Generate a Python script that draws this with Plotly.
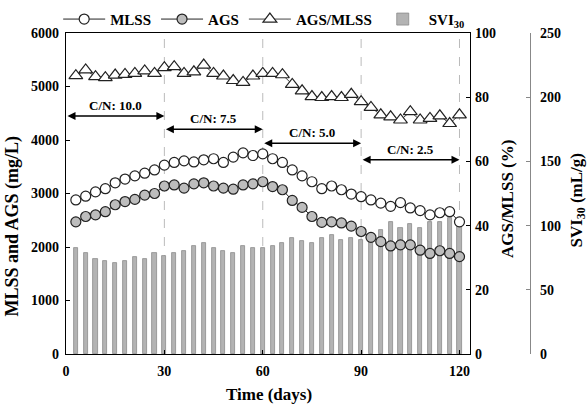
import plotly.graph_objects as go

# ---- data ----
days = [3, 6, 9, 12, 15, 18, 21, 24, 27, 30, 33, 36, 39, 42, 45, 48, 51, 54, 57, 60,
        63, 66, 69, 72, 75, 78, 81, 84, 87, 90, 93, 96, 99, 102, 105, 108, 111, 114, 117, 120]

mlss = [2880, 2950, 3030, 3090, 3200, 3270, 3330, 3380, 3440, 3530,
        3580, 3610, 3590, 3630, 3650, 3580, 3680, 3760, 3710, 3740,
        3650, 3580, 3440, 3330, 3220, 3090, 3140, 3070, 2990, 2940,
        2880, 2820, 2760, 2830, 2730, 2680, 2600, 2640, 2660, 2470]

ags = [2470, 2570, 2600, 2660, 2790, 2850, 2890, 2970, 3000, 3140,
       3160, 3100, 3180, 3200, 3140, 3100, 3080, 3160, 3180, 3220,
       3130, 3070, 2870, 2740, 2570, 2460, 2470, 2450, 2390, 2290,
       2180, 2100, 2020, 2040, 2040, 1940, 1880, 1930, 1880, 1820]

ags_mlss = [86.7, 88.5, 86.4, 86.1, 86.9, 87.1, 87.4, 88.2, 87.4, 89.2,
            89.5, 87.4, 87.9, 90.0, 87.4, 86.6, 85.2, 84.6, 86.6, 87.4,
            87.4, 87.0, 84.0, 82.0, 80.2, 79.9, 80.2, 79.9, 80.9, 78.6,
            76.8, 74.5, 73.9, 72.9, 75.5, 72.9, 73.4, 74.2, 71.8, 74.5]

svi30 = [82.3, 78.4, 74.0, 72.4, 70.6, 72.4, 75.8, 74.2, 78.4, 76.3,
         78.4, 80.2, 84.4, 86.7, 82.3, 80.2, 78.4, 84.4, 82.3, 82.3,
         84.4, 86.7, 90.1, 88.3, 86.7, 90.1, 92.7, 88.8, 90.1, 88.8,
         88.0, 96.6, 103.0, 98.4, 101.0, 98.4, 103.0, 103.0, 105.7, 103.0]

x_ticks = [0, 30, 60, 90, 120]
phase_bounds = [0, 30, 60, 90, 120]
phase_labels = ["C/N: 10.0", "C/N: 7.5", "C/N: 5.0", "C/N: 2.5"]
phase_arrow_level = [4450, 4200, 3940, 3630]   # mg/L on left axis

FONT = "Liberation Serif"

fig = go.Figure()

# bars on base axis (drawn underneath)
fig.add_trace(go.Bar(
    x=days, y=svi30, name="SVI<sub>30</sub>", yaxis="y", width=1.25,
    marker=dict(color="#b3b3b3", line=dict(color="#8c8c8c", width=0.8)),
    legendrank=4))

fig.add_trace(go.Scatter(
    x=days, y=mlss, name="MLSS", yaxis="y2", mode="lines+markers",
    line=dict(color="#222222", width=1),
    marker=dict(symbol="circle", size=10, color="white",
                line=dict(color="#222222", width=1.2)),
    legendrank=1))

fig.add_trace(go.Scatter(
    x=days, y=ags, name="AGS", yaxis="y2", mode="lines+markers",
    line=dict(color="#222222", width=1),
    marker=dict(symbol="circle", size=10, color="#bdbdbd",
                line=dict(color="#222222", width=1.2)),
    legendrank=2))

fig.add_trace(go.Scatter(
    x=days, y=ags_mlss, name="AGS/MLSS", yaxis="y3", mode="lines+markers",
    line=dict(color="#444444", width=1),
    marker=dict(symbol="triangle-up", size=12, color="white",
                line=dict(color="#222222", width=1.2)),
    legendrank=3))

# dashed phase separators
shapes = []
for b in phase_bounds[1:]:
    shapes.append(dict(type="line", xref="x", yref="paper", x0=b, x1=b, y0=0, y1=1,
                       line=dict(color="#bbbbbb", width=1, dash="dash"), layer="below"))

annotations = []
for i, lab in enumerate(phase_labels):
    a, b = phase_bounds[i], phase_bounds[i + 1]
    lvl = phase_arrow_level[i]
    annotations.append(dict(
        x=b, y=lvl, ax=a, ay=lvl, xref="x", yref="y2", axref="x", ayref="y2",
        text="", showarrow=True, arrowhead=2, arrowside="end+start",
        arrowsize=1, arrowwidth=1.6, arrowcolor="black", standoff=0, startstandoff=0))
    annotations.append(dict(
        x=(a + b) / 2, y=lvl, xref="x", yref="y2", text=lab, showarrow=False,
        yanchor="bottom", yshift=1,
        font=dict(family=FONT, size=13, color="black", weight="bold")))

# axis titles as annotations
title_font = dict(family=FONT, size=17, color="black", weight="bold")
annotations += [
    dict(text="MLSS and AGS (mg/L)", xref="paper", yref="paper", x=-0.102, y=0.40,
         xanchor="center", yanchor="middle", textangle=-90, showarrow=False,
         font=dict(family=FONT, size=18, color="black", weight="bold")),
    dict(text="AGS/MLSS (%)", xref="paper", yref="paper", x=0.848, y=0.485,
         xanchor="center", yanchor="middle",
         textangle=-90, showarrow=False, font=title_font),
    dict(text="SVI<sub>30</sub> (mL/g)", xref="paper", yref="paper", x=0.982, y=0.48,
         xanchor="center", yanchor="middle",
         textangle=-90, showarrow=False, font=title_font),
    dict(text="Time (days)", xref="paper", yref="paper", x=0.39, y=-0.125,
         xanchor="center", yanchor="middle",
         showarrow=False, font=title_font),
]

tick_font = dict(family=FONT, size=14, color="black", weight="bold")

fig.update_layout(
    width=587, height=406, autosize=False,
    margin=dict(l=66, r=0, t=33, b=52),
    paper_bgcolor="white", plot_bgcolor="white",
    showlegend=True,
    legend=dict(orientation="h", x=-0.015, xanchor="left", y=1.094, yanchor="top",
                font=dict(family=FONT, size=15, color="black", weight="bold"),
                bgcolor="rgba(0,0,0,0)", itemwidth=42, traceorder="normal"),
    bargap=0,
    xaxis=dict(domain=[0, 0.7754], range=[0, 123.2], anchor="y",
               tickvals=x_ticks, ticks="inside", ticklen=4, tickcolor="black",
               showline=True, linecolor="black", linewidth=1.3, mirror=True,
               showgrid=False, zeroline=False, tickfont=tick_font,
               ticklabelstandoff=4),
    yaxis=dict(range=[0, 250], anchor="free", position=0.8906, side="right",
               tickvals=[0, 50, 100, 150, 200, 250], ticks="inside", ticklen=4,
               tickcolor="#888888", showline=True, linecolor="#888888", linewidth=1.3,
               showgrid=False, zeroline=False, tickfont=tick_font,
               ticklabelstandoff=6),
    yaxis2=dict(range=[0, 6000], overlaying="y", side="left", anchor="x",
                tickvals=[0, 1000, 2000, 3000, 4000, 5000, 6000], ticks="inside",
                ticklen=4, tickcolor="black", showline=True, linecolor="black",
                linewidth=1.3, showgrid=False, zeroline=False, tickfont=tick_font,
                ticklabelstandoff=3),
    yaxis3=dict(range=[0, 100], overlaying="y", side="right", anchor="x",
                tickvals=[0, 20, 40, 60, 80, 100], ticks="inside", ticklen=4,
                tickcolor="black", showline=True, linecolor="black", linewidth=1.3,
                showgrid=False, zeroline=False, tickfont=tick_font,
                ticklabelstandoff=1),
    shapes=shapes,
    annotations=annotations,
)

fig.write_html("out.html")
